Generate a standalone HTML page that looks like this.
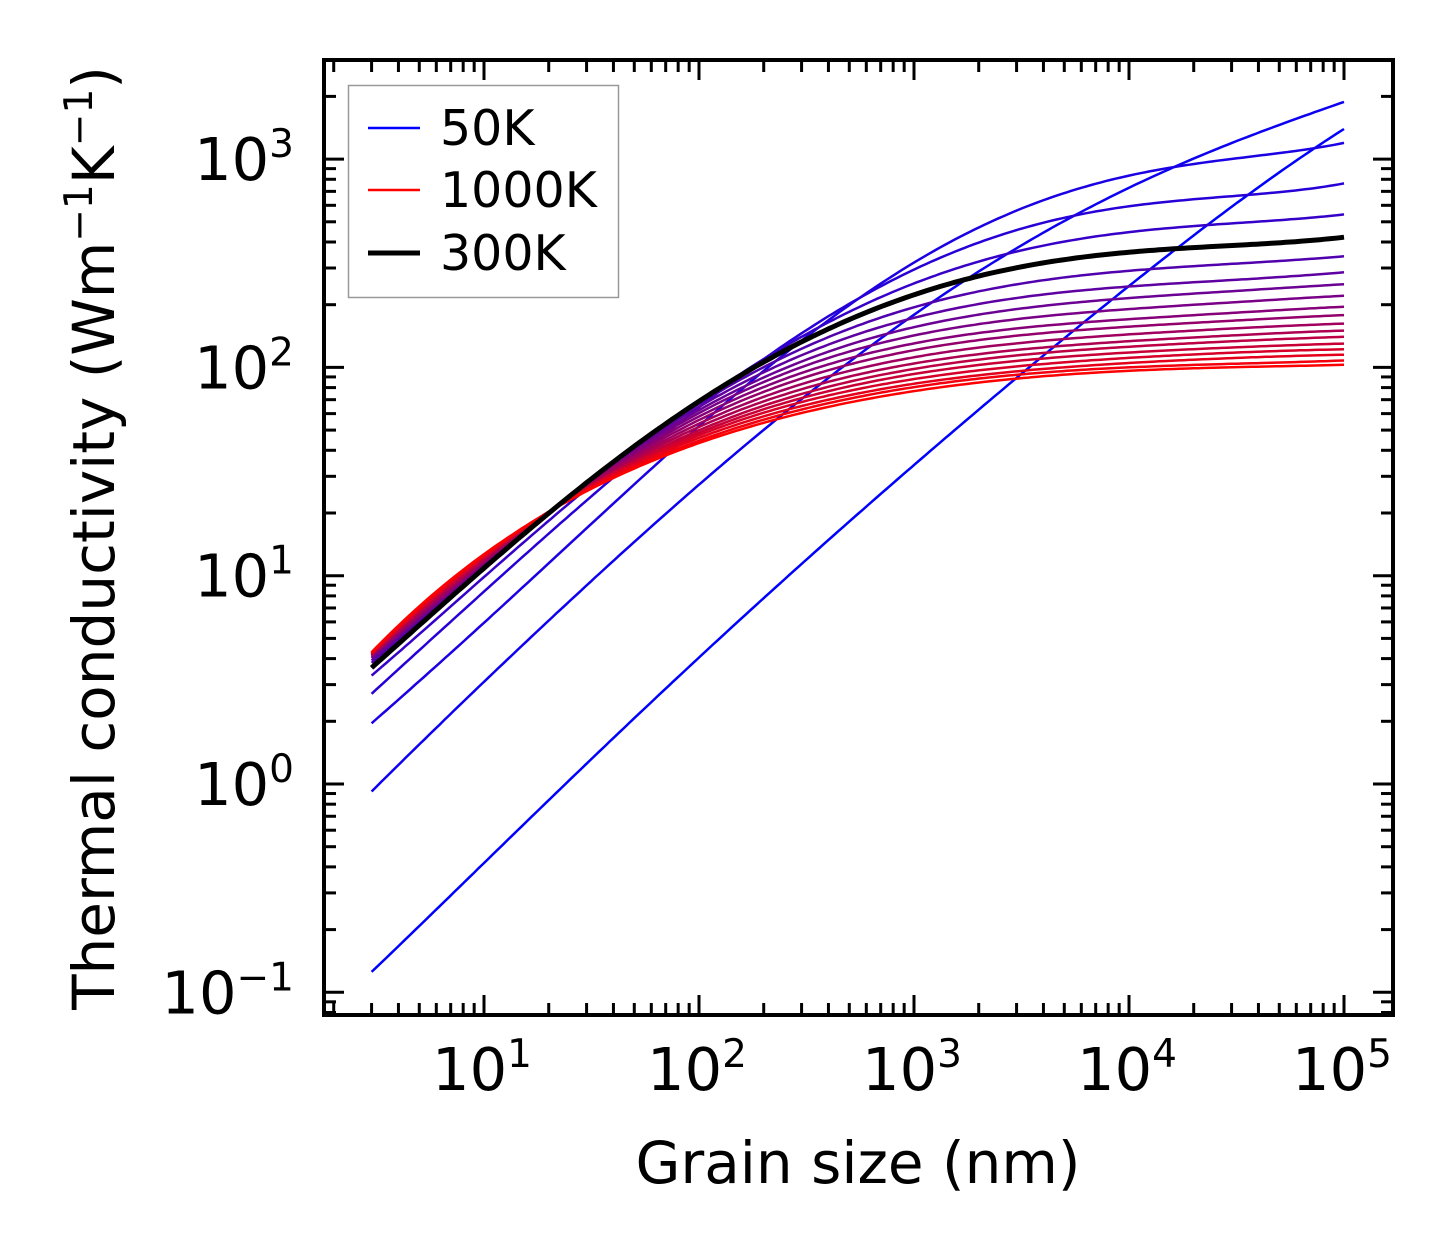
<!DOCTYPE html>
<html><head><meta charset="utf-8">
<style>
html,body{margin:0;padding:0;background:#fff;}
svg{display:block;font-family:"DejaVu Sans","Liberation Sans",sans-serif;}
</style></head>
<body>
<svg id="chart" width="1454" height="1254" viewBox="0 0 1454 1254" xmlns="http://www.w3.org/2000/svg">
<defs><clipPath id="clip"><rect x="324" y="60" width="1070" height="956"/></clipPath></defs>
<g id="series" clip-path="url(#clip)"></g>
<g id="axes"></g>
<text x="858" y="1183" font-size="58" text-anchor="middle">Grain size (nm)</text>
<text transform="translate(114,538) rotate(-90)" font-size="58" text-anchor="middle">Thermal conductivity (Wm<tspan baseline-shift="super" font-size="39">−1</tspan>K<tspan baseline-shift="super" font-size="39">−1</tspan>)</text>
<g>
<rect x="348.5" y="85.5" width="270" height="212" fill="#fff" stroke="#999" stroke-width="1.5"/>
<line x1="368" y1="128" x2="420" y2="128" stroke="#0000ff" stroke-width="2.5"/>
<text x="440" y="145" font-size="49">50K</text>
<line x1="368" y1="190" x2="420" y2="190" stroke="#ff0000" stroke-width="2.5"/>
<text x="440" y="207" font-size="49">1000K</text>
<line x1="368" y1="253" x2="420" y2="253" stroke="#000" stroke-width="5"/>
<text x="440" y="270" font-size="49">300K</text>
</g>
</svg>
<script>
const grainSizes=[3,10,30,100,300,1e3,3e3,1e4,3e4,1e5];
const temperatures=[50,100,150,200,250,300,350,400,450,500,550,600,650,700,750,800,850,900,950,1000];
const k50=[0.125,0.42,1.25,4.0,11.5,34,90,240,600,1390];
const k100=[0.92,3.1,9,27,72,175,380,720,1200,1880];
const k150=[1.95,6,17,50,140,320,560,820,1020,1190];
const k200=[2.7,8.5,23,62,150,300,450,580,680,760];
const k250=[3.3,10,26,66,145,255,355,440,500,540];
const k300=[3.6,11,28,66,138,225,295,355,390,420];
const k350=[3.8,11.2,27.9,64,129,195,245,290,318,340];
const k400=[3.9,11.4,27.8,62,120,174,210,244,266,285];
const k450=[4.0,11.5,27.6,60,112,156,186,216,234,250];
const k500=[4.05,11.6,27.5,58,105,143,166,191,207,220];
const k550=[4.1,11.7,27.3,56,98,131,150,171,184,195];
const k600=[4.12,11.8,27.2,54,92,121,139,158,168,178];
const k650=[4.15,11.9,27,52,86,112,128,145,154,162];
const k700=[4.18,12,26.9,50,81,105,119,134,143,150];
const k750=[4.2,12.1,26.7,48.5,76,99.5,112,126,134,140];
const k800=[4.22,12.2,26.6,47.5,72,94,106,118,125,130];
const k850=[4.24,12.3,26.4,46.5,68.5,89,100,111,118,122];
const k900=[4.26,12.4,26.2,45.5,65,84.5,95,105,111,115];
const k950=[4.28,12.45,26.1,44,62.5,81,92,100,104,108];
const k1000=[4.3,12.5,26,43,60,77,89,96,100,103];
const seriesK=[k50,k100,k150,k200,k250,k300,k350,k400,k450,k500,k550,k600,k650,k700,k750,k800,k850,k900,k950,k1000];

const NS="http://www.w3.org/2000/svg";
function xs(v){return 269+215*Math.log10(v);}
function ys(v){return 784-208.3*Math.log10(v);}
function el(tag,attrs,parent){const e=document.createElementNS(NS,tag);for(const k in attrs)e.setAttribute(k,attrs[k]);parent.appendChild(e);return e;}

// least-squares polynomial fit in log-log space (smooths reading noise)
function polyFit(X,Y,deg){
  const m=deg+1, A=[], b=[];
  for(let i=0;i<m;i++){A.push(new Array(m).fill(0));b.push(0);}
  for(let k=0;k<X.length;k++){
    for(let i=0;i<m;i++){
      b[i]+=Y[k]*Math.pow(X[k],i);
      for(let j=0;j<m;j++)A[i][j]+=Math.pow(X[k],i+j);
    }
  }
  for(let i=0;i<m;i++){
    let p=i;for(let r=i+1;r<m;r++)if(Math.abs(A[r][i])>Math.abs(A[p][i]))p=r;
    [A[i],A[p]]=[A[p],A[i]];[b[i],b[p]]=[b[p],b[i]];
    for(let r=i+1;r<m;r++){const f=A[r][i]/A[i][i];for(let c=i;c<m;c++)A[r][c]-=f*A[i][c];b[r]-=f*b[i];}
  }
  const c=new Array(m).fill(0);
  for(let i=m-1;i>=0;i--){let s=b[i];for(let j=i+1;j<m;j++)s-=A[i][j]*c[j];c[i]=s/A[i][i];}
  return c;
}
const sg=document.getElementById('series');
function pathFor(vals){
  const lx=grainSizes.map(g=>Math.log10(g)), ly=vals.map(v=>Math.log10(v));
  const mid=2.7;
  const X=lx.map(v=>v-mid);
  const c=polyFit(X,ly,5);
  const x0=lx[0],x1=lx[lx.length-1],N=200;let pts=[];
  for(let s=0;s<=N;s++){
    const x=x0+(x1-x0)*s/N, u=x-mid;
    let y=0;for(let i=c.length-1;i>=0;i--)y=y*u+c[i];
    pts.push([xs(Math.pow(10,x)),ys(Math.pow(10,y))]);
  }
  return 'M'+pts.map(p=>p[0].toFixed(1)+','+p[1].toFixed(1)).join('L');
}
seriesK.forEach((vals,i)=>{
  const t=i/(seriesK.length-1);
  const col=`rgb(${Math.round(255*t)},0,${Math.round(255*(1-t))})`;
  const p=el('path',{d:pathFor(vals),fill:'none',stroke:col,'stroke-width':2.5},sg);
  
  
});
const blk=el('path',{d:pathFor(k300),fill:'none',stroke:'#000','stroke-width':5},sg);



const ax=document.getElementById('axes');
const L=324,R=1393,T=60,B=1015;
const xMin=Math.pow(10,(L-269)/215), xMax=Math.pow(10,(R-269)/215);
for(let d=0;d<=5;d++){for(let m=1;m<10;m++){
  const v=m*Math.pow(10,d); if(v<xMin||v>xMax)continue;
  const x=xs(v), len=m===1?20:12, w=3;
  el('line',{x1:x,y1:B,x2:x,y2:B-len,stroke:'#000','stroke-width':w},ax);
  el('line',{x1:x,y1:T,x2:x,y2:T+len,stroke:'#000','stroke-width':w},ax);
}}
for(let d=-2;d<=3;d++){for(let m=1;m<10;m++){
  const v=m*Math.pow(10,d); const y=ys(v); if(y<T||y>B)continue;
  const len=m===1?20:12, w=3;
  el('line',{x1:L,y1:y,x2:L+len,y2:y,stroke:'#000','stroke-width':w},ax);
  el('line',{x1:R,y1:y,x2:R-len,y2:y,stroke:'#000','stroke-width':w},ax);
}}
el('rect',{x:L,y:T,width:R-L,height:B-T,fill:'none',stroke:'#000','stroke-width':4},ax);
const xTickExp=[1,2,3,4,5];
xTickExp.forEach(e=>{
  const t=el('text',{x:xs(Math.pow(10,e))-2,y:1090,'font-size':59,'text-anchor':'middle'},ax);
  t.innerHTML='10<tspan dy="-23" font-size="39">'+e+'</tspan>';
  
  
});
const yTickExp=[-1,0,1,2,3];
yTickExp.forEach(e=>{
  const t=el('text',{x:294,y:ys(Math.pow(10,e))+21,'font-size':59,'text-anchor':'end'},ax);
  t.innerHTML='10<tspan dy="-23" font-size="39">'+(e<0?'−'+(-e):e)+'</tspan>';
  
  
});
</script>
</body></html>
